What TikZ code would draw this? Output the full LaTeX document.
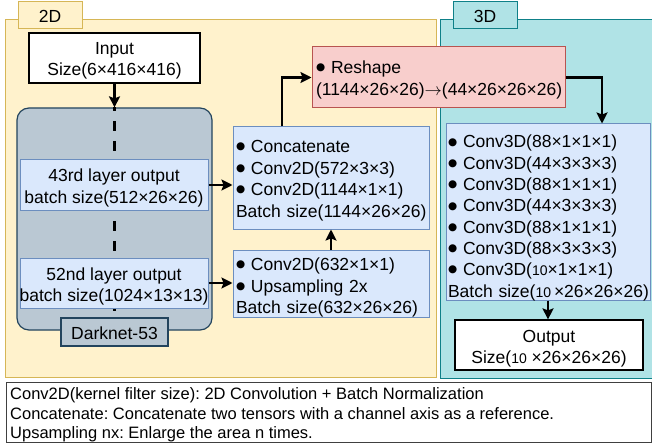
\documentclass[tikz,border=0pt]{standalone}
\usepackage{fontspec}
\setmainfont{Liberation Sans}
\newfontfamily\symfont{DejaVu Sans}
\usetikzlibrary{arrows.meta}
\definecolor{yfill}{HTML}{FFF2CC}
\definecolor{ydraw}{HTML}{D6B656}
\definecolor{tfill}{HTML}{B0E3E6}
\definecolor{tdraw}{HTML}{0E8088}
\definecolor{bfill}{HTML}{DAE8FC}
\definecolor{bdraw}{HTML}{6C8EBF}
\definecolor{gfill}{HTML}{BAC8D3}
\definecolor{gdraw}{HTML}{23445D}
\definecolor{rfill}{HTML}{F8CECC}
\definecolor{rdraw}{HTML}{B85450}
\newcommand{\smallten}{{\fontsize{14}{14}\selectfont 10}}
\newcommand{\bul}{\raisebox{2.8pt}{\symfont\fontsize{10.5}{10.5}\selectfont ●}}
\frenchspacing
\begin{document}
\begin{tikzpicture}[x=1pt,y=-1pt,
  font=\fontsize{17.5}{21.5}\selectfont,
  panelyellow/.style={draw=ydraw, fill=yfill, line width=1pt, inner sep=0pt},
  panelteal/.style={draw=tdraw, fill=tfill, line width=1pt, inner sep=0pt},
  whitebox/.style={draw=black, fill=white, line width=1.2pt, inner sep=0pt},
  bluebox/.style={draw=bdraw, fill=bfill, line width=1pt, inner sep=0pt},
  graybox/.style={draw=gdraw, fill=gfill, line width=1.2pt, inner sep=0pt},
  redbox/.style={draw=rdraw, fill=rfill, line width=1pt, inner sep=0pt},
  lefttext/.style={inner sep=0pt, align=left},
  centertext/.style={inner sep=0pt, align=center},
  conn/.style={line width=2.6pt, -{Stealth[length=11pt,width=11pt,inset=2pt]}},
  dashline/.style={line width=3pt, dash pattern=on 10pt off 10pt, dash phase=6pt},
  legendbox/.style={draw=black!75, line width=0.8pt, inner sep=0pt},
  legendtext/.style={inner sep=0pt, align=left, font=\fontsize{16.5}{19.5}\selectfont}]
\useasboundingbox (0,0) rectangle (652,446);

% panels
\node[panelyellow, minimum width=431pt, minimum height=357pt] (p2d) at (220.5,198.5) {};
\node[panelteal, minimum width=213pt, minimum height=358pt] (p3d) at (546.5,199) {};
\node[panelyellow, minimum width=64pt, minimum height=27pt] (t2d) at (50,15.5) {};
\node[centertext] (t2dT) at ([yshift=-1pt]t2d.center) {2D};
\node[panelteal, minimum width=64pt, minimum height=27pt] (t3d) at (485,15.5) {};
\node[centertext] (t3dT) at ([yshift=-1pt]t3d.center) {3D};

% input
\node[whitebox, minimum width=171pt, minimum height=50pt] (input) at (114.5,58) {};
\node[centertext] (inputT) at ([yshift=-3pt]input.center) {Input\\Size(6×416×416)};

% darknet container
\node[graybox, rounded corners=12pt, minimum width=195pt, minimum height=222pt] (darknet) at (114.5,219) {};
\node[graybox, minimum width=107pt, minimum height=28pt] (dlabel) at (114.5,332) {};
\node[centertext] (dlabelT) at ([yshift=-1pt]dlabel.center) {Darknet-53};
\draw[dashline] (darknet.north) -- (dlabel.north);
\node[bluebox, minimum width=188pt, minimum height=50pt] (l43) at (114,185) {};
\node[centertext] (l43T) at ([yshift=-3pt]l43.center) {43rd layer output\\batch size(512×26×26)};
\node[bluebox, minimum width=188pt, minimum height=50pt] (l52) at (114,283) {};
\node[centertext] (l52T) at ([yshift=-3.5pt]l52.center) {52nd layer output\\batch size(1024×13×13)};

% middle boxes
\node[bluebox, minimum width=196pt, minimum height=102pt] (concat) at (331,178) {};
\node[lefttext, text width=190pt] (concatT) at ([yshift=-2.5pt]concat.center)
  {\bul\ Concatenate\\\bul\ Conv2D(572×3×3)\\\bul\ Conv2D(1144×1×1)\\Batch~size(1144×26×26)};
\node[bluebox, minimum width=196pt, minimum height=67pt] (ups) at (331,283.5) {};
\node[lefttext, text width=190pt] (upsT) at ([yshift=-4pt]ups.center)
  {\bul\ Conv2D(632×1×1)\\\bul\ Upsampling~2x\\Batch~size(632×26×26)};
\node[redbox, minimum width=253pt, minimum height=61pt] (reshape) at (438.5,77.5) {};
\node[lefttext, text width=245pt] (reshapeT) at ([yshift=-2.5pt]reshape.center)
  {\bul\ Reshape\\(1144×26×26)$\rightarrow$(44×26×26×26)};

% 3D boxes
\node[bluebox, minimum width=204pt, minimum height=176pt] (conv3d) at (548,212) {};
\node[lefttext, text width=200pt, font=\fontsize{17.5}{21.3}\selectfont] (conv3dT) at ([yshift=-6pt]conv3d.center)
  {\bul\ Conv3D(88×1×1×1)\\\bul\ Conv3D(44×3×3×3)\\\bul\ Conv3D(88×1×1×1)\\\bul\ Conv3D(44×3×3×3)\\\bul\ Conv3D(88×1×1×1)\\\bul\ Conv3D(88×3×3×3)\\\bul\ Conv3D(\smallten×1×1×1)\\Batch~size(\smallten\,×26×26×26)};
\node[whitebox, minimum width=188pt, minimum height=50pt] (output) at (549,345) {};
\node[centertext] (outputT) at ([yshift=-3.5pt]output.center) {Output\\Size(\smallten\ ×26×26×26)};

% legend
\node[legendbox, anchor=north west, minimum width=645pt, minimum height=60pt] (legend) at (6,382) {};
\node[legendtext, anchor=west] (legendT) at ([xshift=4pt,yshift=-2.5pt]legend.west)
  {Conv2D(kernel filter size): 2D Convolution + Batch Normalization\\Concatenate: Concatenate two tensors with a channel axis as a reference.\\Upsampling nx: Enlarge the area n times.};

% connectors
\draw[conn] (input.south) -- (darknet.north);
\draw[conn] (l43.east) -- (l43.east -| concat.west);
\draw[conn] (l52.east) -- (l52.east -| ups.west);
\draw[conn] (ups.north) -- (concat.south);
\draw[conn] ([xshift=-49pt]concat.north) |- (reshape.west);
\draw[conn] (reshape.east) -| ([xshift=54pt]conv3d.north);
\draw[conn] (conv3d.south) -- (conv3d.south |- output.north);
\end{tikzpicture}
\end{document}
